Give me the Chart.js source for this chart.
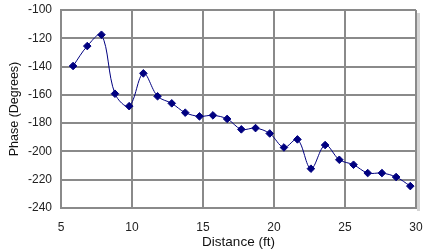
<!DOCTYPE html>
<html>
<head>
<meta charset="utf-8">
<script src="https://cdn.jsdelivr.net/npm/chart.js@4/dist/chart.umd.min.js"></script>
<style>
  html, body { margin: 0; padding: 0; background: #fff; }
  #wrap { width: 426px; height: 250px; }
</style>
</head>
<body>
<div id="wrap"><canvas id="myChart" width="426" height="250"></canvas></div>
<script>
// distance (ft) and phase (degrees)
var distance = [5.85, 6.85, 7.85, 8.8, 9.8, 10.8, 11.8, 12.8, 13.75, 14.75, 15.7, 16.7, 17.7,
                18.7, 19.7, 20.7, 21.65, 22.6, 23.6, 24.6, 25.6, 26.6, 27.6, 28.6, 29.6];
var phase = [-139.6, -125.5, -117.5, -159.2, -168, -144.8, -161, -166, -172.6, -175.2, -174.5, -177, -184.4,
             -183.5, -187.3, -197.2, -191.5, -212.2, -195.5, -205.9, -209.4, -215.3, -215.3, -218.1, -224.5];
var xTicks = [5, 10, 15, 20, 25, 30];
var yTicks = [-240, -220, -200, -180, -160, -140, -120, -100];

var points = distance.map(function(d, i) { return {x: d, y: phase[i]}; });

// little grey shadow on the right of the plot, like the original
var shadow = {
  id: 'shadow',
  beforeDraw: function(chart) {
    var a = chart.chartArea, c = chart.ctx;
    c.save();
    c.fillStyle = '#d4d4d4';
    c.fillRect(a.right + 1, a.top + 3, 3, a.bottom - a.top);
    c.restore();
  }
};

var gridStyle = { color: '#8a8a8a', lineWidth: 2, drawTicks: false };

var ctx = document.getElementById('myChart').getContext('2d');
var myChart = new Chart(ctx, {
  type: 'line',
  data: {
    datasets: [{
      data: points,
      borderColor: '#000080',
      backgroundColor: '#000080',
      borderWidth: 1,
      tension: 0.35,
      pointStyle: 'rectRot',
      pointRadius: 3.8,
      pointHoverRadius: 3.8,
      fill: false
    }]
  },
  options: {
    responsive: false,
    animation: false,
    layout: { autoPadding: false, padding: { top: 10, right: 10, left: 0, bottom: 0 } },
    plugins: { legend: { display: false }, tooltip: { enabled: false } },
    scales: {
      x: {
        type: 'linear',
        min: xTicks[0],
        max: xTicks[xTicks.length - 1],
        afterBuildTicks: function(s) { s.ticks = xTicks.map(function(v) { return {value: v}; }); },
        afterFit: function(s) { s.height = 42; s.paddingLeft = 0; s.paddingRight = 0; },
        grid: gridStyle,
        border: { color: '#8a8a8a', width: 2 },
        ticks: { padding: 12, color: '#222', font: { family: 'Liberation Sans', size: 12 } },
        title: { display: true, text: 'Distance (ft)', color: '#111',
                 font: { family: 'Liberation Sans', size: 13.5 }, padding: { top: 0, bottom: 0 } }
      },
      y: {
        min: yTicks[0],
        max: yTicks[yTicks.length - 1],
        afterBuildTicks: function(s) { s.ticks = yTicks.map(function(v) { return {value: v}; }); },
        afterFit: function(s) { s.width = 61; s.paddingTop = 0; s.paddingBottom = 0; },
        grid: gridStyle,
        border: { color: '#8a8a8a', width: 2 },
        ticks: { padding: 9, color: '#222', font: { family: 'Liberation Sans', size: 12 } },
        title: { display: true, text: 'Phase (Degrees)', color: '#111',
                 font: { family: 'Liberation Sans', size: 12.5 }, padding: { top: 7, bottom: 0 } }
      }
    }
  },
  plugins: [shadow]
});
</script>
</body>
</html>
